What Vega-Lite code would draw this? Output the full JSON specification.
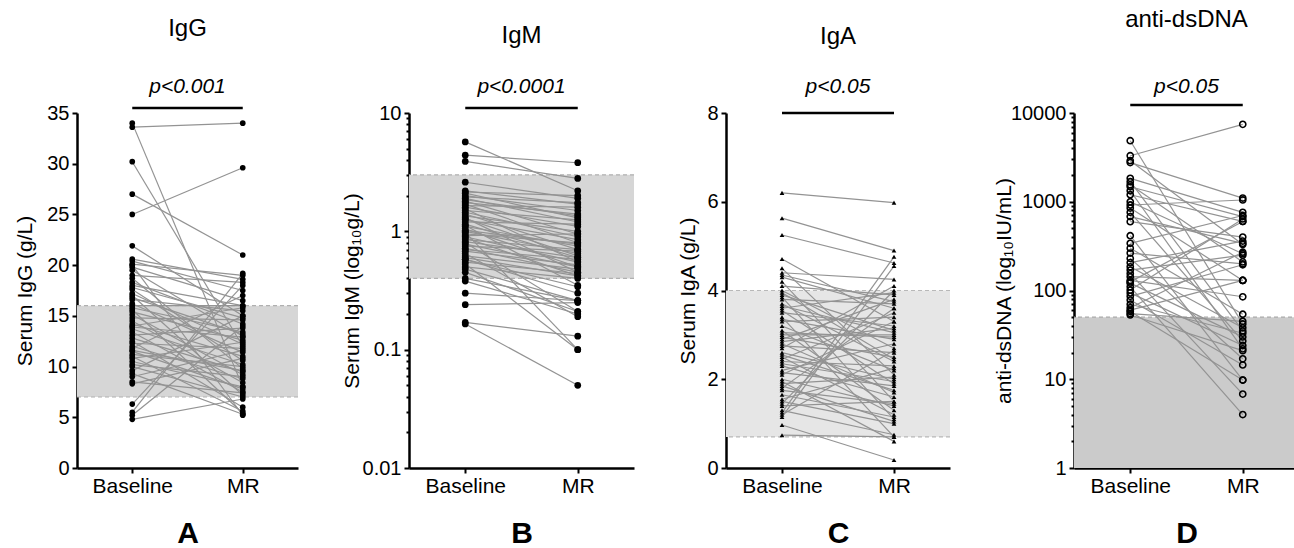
{
  "$schema": "https://vega.github.io/schema/vega-lite/v6.json",
  "padding": {"left": 14, "top": 8, "right": 0, "bottom": 0},
  "background": "white",
  "spacing": 42,
  "config": {
    "view": {"stroke": null},
    "font": "Liberation Sans",
    "axis": {"domainColor": "black", "domainWidth": 2.5, "tickColor": "black", "tickWidth": 2, "labelColor": "black", "titleColor": "black", "labelFont": "Liberation Sans", "titleFont": "Liberation Sans", "grid": false, "labelFontSize": 20, "titleFontSize": 21, "titleFontWeight": "normal", "tickSize": 5, "labelPadding": 3},
    "axisX": {"labelAngle": 0, "labelFontSize": 21, "labelPadding": 2, "titleFontSize": 30, "titleFontWeight": "bold", "titlePadding": 22, "tickSize": 5},
    "title": {"font": "Liberation Sans", "fontSize": 24, "fontWeight": "normal", "color": "black", "subtitleFont": "Liberation Sans", "subtitleFontSize": 21, "subtitleFontStyle": "italic", "subtitleColor": "black", "anchor": "middle", "frame": "group", "offset": 6}
  },
  "datasets": {
    "igg": [
      {"id":1,"Baseline":33.6,"MR":34.0},{"id":2,"Baseline":34.0,"MR":8.0},{"id":3,"Baseline":30.2,"MR":12.0},{"id":4,"Baseline":27.0,"MR":21.0},
      {"id":5,"Baseline":25.0,"MR":29.6},{"id":6,"Baseline":21.9,"MR":15.0},{"id":7,"Baseline":20.6,"MR":18.6},{"id":8,"Baseline":20.4,"MR":17.5},
      {"id":9,"Baseline":20.1,"MR":19.0},{"id":10,"Baseline":19.8,"MR":16.5},{"id":11,"Baseline":19.5,"MR":13.0},{"id":12,"Baseline":19.0,"MR":18.3},
      {"id":13,"Baseline":18.7,"MR":9.8},{"id":14,"Baseline":18.3,"MR":14.2},{"id":15,"Baseline":18.0,"MR":16.0},{"id":16,"Baseline":17.6,"MR":10.6},
      {"id":17,"Baseline":17.2,"MR":12.2},{"id":18,"Baseline":17.0,"MR":7.2},{"id":19,"Baseline":16.6,"MR":15.5},{"id":20,"Baseline":16.2,"MR":11.4},
      {"id":21,"Baseline":16.0,"MR":16.0},{"id":22,"Baseline":15.8,"MR":13.4},{"id":23,"Baseline":15.6,"MR":5.4},{"id":24,"Baseline":15.4,"MR":12.6},
      {"id":25,"Baseline":15.1,"MR":9.2},{"id":26,"Baseline":14.8,"MR":14.6},{"id":27,"Baseline":14.5,"MR":8.4},{"id":28,"Baseline":14.2,"MR":11.0},
      {"id":29,"Baseline":14.0,"MR":15.8},{"id":30,"Baseline":13.7,"MR":10.2},{"id":31,"Baseline":13.4,"MR":7.5},{"id":32,"Baseline":13.1,"MR":13.8},
      {"id":33,"Baseline":12.8,"MR":9.5},{"id":34,"Baseline":12.5,"MR":6.0},{"id":35,"Baseline":12.3,"MR":11.8},{"id":36,"Baseline":12.0,"MR":8.8},
      {"id":37,"Baseline":11.8,"MR":17.0},{"id":38,"Baseline":11.5,"MR":7.8},{"id":39,"Baseline":11.2,"MR":10.0},{"id":40,"Baseline":11.0,"MR":5.6},
      {"id":41,"Baseline":10.8,"MR":12.4},{"id":42,"Baseline":10.5,"MR":8.0},{"id":43,"Baseline":10.2,"MR":9.0},{"id":44,"Baseline":10.0,"MR":7.0},
      {"id":45,"Baseline":9.6,"MR":15.0},{"id":46,"Baseline":9.3,"MR":5.3},{"id":47,"Baseline":9.0,"MR":11.6},{"id":48,"Baseline":8.5,"MR":7.4},
      {"id":49,"Baseline":8.3,"MR":10.8},{"id":50,"Baseline":6.3,"MR":18.0},{"id":51,"Baseline":5.5,"MR":19.2},{"id":52,"Baseline":5.2,"MR":14.0},
      {"id":53,"Baseline":4.8,"MR":6.8},{"id":54,"Baseline":20.0,"MR":5.2},{"id":55,"Baseline":16.8,"MR":13.2},{"id":56,"Baseline":13.9,"MR":12.9},
      {"id":57,"Baseline":11.6,"MR":9.6},{"id":58,"Baseline":17.8,"MR":14.8}
    ],
    "igm": [
      {"id":1,"Baseline":5.7,"MR":2.2},{"id":2,"Baseline":4.4,"MR":3.8},{"id":3,"Baseline":3.9,"MR":2.8},{"id":4,"Baseline":2.6,"MR":1.9},
      {"id":5,"Baseline":2.2,"MR":1.7},{"id":6,"Baseline":2.1,"MR":1.3},{"id":7,"Baseline":2.0,"MR":1.5},{"id":8,"Baseline":1.95,"MR":1.75},
      {"id":9,"Baseline":1.9,"MR":1.2},{"id":10,"Baseline":1.8,"MR":0.95},{"id":11,"Baseline":1.75,"MR":1.4},{"id":12,"Baseline":1.7,"MR":0.8},
      {"id":13,"Baseline":1.6,"MR":1.1},{"id":14,"Baseline":1.55,"MR":0.55},{"id":15,"Baseline":1.5,"MR":1.25},{"id":16,"Baseline":1.45,"MR":0.9},
      {"id":17,"Baseline":1.4,"MR":0.7},{"id":18,"Baseline":1.35,"MR":1.0},{"id":19,"Baseline":1.3,"MR":0.45},{"id":20,"Baseline":1.25,"MR":0.85},
      {"id":21,"Baseline":1.2,"MR":1.15},{"id":22,"Baseline":1.15,"MR":0.6},{"id":23,"Baseline":1.1,"MR":0.75},{"id":24,"Baseline":1.05,"MR":0.5},
      {"id":25,"Baseline":1.0,"MR":0.65},{"id":26,"Baseline":0.98,"MR":0.1},{"id":27,"Baseline":0.95,"MR":0.8},{"id":28,"Baseline":0.9,"MR":0.55},
      {"id":29,"Baseline":0.88,"MR":0.42},{"id":30,"Baseline":0.85,"MR":0.7},{"id":31,"Baseline":0.82,"MR":0.6},{"id":32,"Baseline":0.8,"MR":0.21},
      {"id":33,"Baseline":0.78,"MR":0.5},{"id":34,"Baseline":0.75,"MR":0.68},{"id":35,"Baseline":0.72,"MR":0.45},{"id":36,"Baseline":0.7,"MR":0.58},
      {"id":37,"Baseline":0.68,"MR":0.52},{"id":38,"Baseline":0.65,"MR":0.19},{"id":39,"Baseline":0.62,"MR":0.48},{"id":40,"Baseline":0.6,"MR":0.42},
      {"id":41,"Baseline":0.58,"MR":0.34},{"id":42,"Baseline":0.55,"MR":0.44},{"id":43,"Baseline":0.53,"MR":0.1},{"id":44,"Baseline":0.5,"MR":0.4},
      {"id":45,"Baseline":0.48,"MR":0.26},{"id":46,"Baseline":0.45,"MR":0.21},{"id":47,"Baseline":0.4,"MR":0.26},{"id":48,"Baseline":0.38,"MR":0.2},
      {"id":49,"Baseline":0.3,"MR":0.26},{"id":50,"Baseline":0.24,"MR":0.25},{"id":51,"Baseline":0.17,"MR":0.13},{"id":52,"Baseline":0.165,"MR":0.05},
      {"id":53,"Baseline":1.65,"MR":1.6},{"id":54,"Baseline":1.12,"MR":0.35},{"id":55,"Baseline":2.15,"MR":2.0},{"id":56,"Baseline":0.92,"MR":0.95},
      {"id":57,"Baseline":1.28,"MR":0.62},{"id":58,"Baseline":0.58,"MR":0.3},{"id":59,"Baseline":1.85,"MR":1.35},{"id":60,"Baseline":1.02,"MR":0.78}
    ],
    "iga": [
      {"id":1,"Baseline":6.2,"MR":5.98},{"id":2,"Baseline":5.63,"MR":4.9},{"id":3,"Baseline":5.25,"MR":4.62},{"id":4,"Baseline":4.71,"MR":3.3},
      {"id":5,"Baseline":4.5,"MR":2.1},{"id":6,"Baseline":4.4,"MR":4.25},{"id":7,"Baseline":4.3,"MR":3.6},{"id":8,"Baseline":4.2,"MR":1.5},
      {"id":9,"Baseline":4.1,"MR":3.9},{"id":10,"Baseline":4.0,"MR":2.7},{"id":11,"Baseline":3.9,"MR":3.1},{"id":12,"Baseline":3.85,"MR":1.1},
      {"id":13,"Baseline":3.8,"MR":3.7},{"id":14,"Baseline":3.7,"MR":2.4},{"id":15,"Baseline":3.6,"MR":3.95},{"id":16,"Baseline":3.55,"MR":1.9},
      {"id":17,"Baseline":3.5,"MR":3.2},{"id":18,"Baseline":3.4,"MR":0.7},{"id":19,"Baseline":3.35,"MR":2.9},{"id":20,"Baseline":3.3,"MR":3.4},
      {"id":21,"Baseline":3.2,"MR":2.2},{"id":22,"Baseline":3.1,"MR":1.3},{"id":23,"Baseline":3.0,"MR":3.0},{"id":24,"Baseline":2.95,"MR":2.5},
      {"id":25,"Baseline":2.9,"MR":3.8},{"id":26,"Baseline":2.8,"MR":1.7},{"id":27,"Baseline":2.75,"MR":2.6},{"id":28,"Baseline":2.7,"MR":4.1},
      {"id":29,"Baseline":2.6,"MR":2.0},{"id":30,"Baseline":2.5,"MR":1.2},{"id":31,"Baseline":2.45,"MR":3.5},{"id":32,"Baseline":2.4,"MR":2.3},
      {"id":33,"Baseline":2.3,"MR":1.6},{"id":34,"Baseline":2.2,"MR":2.8},{"id":35,"Baseline":2.15,"MR":1.85},{"id":36,"Baseline":2.1,"MR":3.3},
      {"id":37,"Baseline":2.0,"MR":1.4},{"id":38,"Baseline":1.95,"MR":0.6},{"id":39,"Baseline":1.9,"MR":2.05},{"id":40,"Baseline":1.85,"MR":1.05},
      {"id":41,"Baseline":1.8,"MR":3.6},{"id":42,"Baseline":1.75,"MR":1.45},{"id":43,"Baseline":1.55,"MR":2.25},{"id":44,"Baseline":1.5,"MR":1.0},
      {"id":45,"Baseline":1.45,"MR":4.0},{"id":46,"Baseline":1.4,"MR":1.5},{"id":47,"Baseline":1.3,"MR":0.75},{"id":48,"Baseline":1.25,"MR":4.76},
      {"id":49,"Baseline":1.2,"MR":2.65},{"id":50,"Baseline":1.15,"MR":4.55},{"id":51,"Baseline":0.97,"MR":0.18},{"id":52,"Baseline":0.74,"MR":0.7},
      {"id":53,"Baseline":3.65,"MR":3.05},{"id":54,"Baseline":2.55,"MR":1.75},{"id":55,"Baseline":3.05,"MR":2.95},{"id":56,"Baseline":2.35,"MR":1.95},
      {"id":57,"Baseline":4.35,"MR":3.75},{"id":58,"Baseline":1.65,"MR":1.15},{"id":59,"Baseline":2.85,"MR":3.15},{"id":60,"Baseline":3.95,"MR":2.45}
    ],
    "dsdna": [
      {"id":1,"Baseline":4870,"MR":42},{"id":2,"Baseline":3300,"MR":7450},{"id":3,"Baseline":2760,"MR":1100},{"id":4,"Baseline":1837,"MR":760},
      {"id":5,"Baseline":1683,"MR":35},{"id":6,"Baseline":1475,"MR":680},{"id":7,"Baseline":1330,"MR":22},{"id":8,"Baseline":1200,"MR":600},
      {"id":9,"Baseline":919,"MR":1047},{"id":10,"Baseline":850,"MR":130},{"id":11,"Baseline":760,"MR":27},{"id":12,"Baseline":680,"MR":340},
      {"id":13,"Baseline":596,"MR":400},{"id":14,"Baseline":414,"MR":9.8},{"id":15,"Baseline":340,"MR":700},{"id":16,"Baseline":300,"MR":54},
      {"id":17,"Baseline":264,"MR":200},{"id":18,"Baseline":230,"MR":17},{"id":19,"Baseline":206,"MR":360},{"id":20,"Baseline":185,"MR":38},
      {"id":21,"Baseline":170,"MR":250},{"id":22,"Baseline":155,"MR":6.8},{"id":23,"Baseline":143,"MR":130},{"id":24,"Baseline":130,"MR":85},
      {"id":25,"Baseline":121,"MR":30},{"id":26,"Baseline":110,"MR":4.0},{"id":27,"Baseline":101,"MR":640},{"id":28,"Baseline":94,"MR":24},
      {"id":29,"Baseline":86,"MR":195},{"id":30,"Baseline":78,"MR":14.5},{"id":31,"Baseline":70,"MR":33},{"id":32,"Baseline":64,"MR":270},
      {"id":33,"Baseline":58,"MR":9.8},{"id":34,"Baseline":55,"MR":45},{"id":35,"Baseline":53,"MR":21},{"id":36,"Baseline":60,"MR":130},
      {"id":37,"Baseline":2900,"MR":330},{"id":38,"Baseline":1550,"MR":210},{"id":39,"Baseline":1000,"MR":260},{"id":40,"Baseline":125,"MR":600}
    ]
  },
  "hconcat": [
    {
      "width": 221, "height": 355,
      "title": {"text": "IgG", "subtitle": "p<0.001", "subtitlePadding": 35},
      "layer": [
        {"data": {"values": [{"v": 7, "v2": 16}]}, "mark": {"type": "rect", "color": "#d6d6d6"},
         "encoding": {"y": {"field": "v", "type": "quantitative", "scale": {"domain": [0, 35], "nice": false, "zero": false}, "title": "Serum IgG (g/L)", "axis": {"values": [0, 5, 10, 15, 20, 25, 30, 35], "titlePadding": 11}}, "y2": {"field": "v2"}}},
        {"data": {"values": [{"v": 7}, {"v": 16}]}, "mark": {"type": "rule", "color": "#b0b0b0", "strokeDash": [4, 3], "strokeWidth": 1.2},
         "encoding": {"y": {"field": "v", "type": "quantitative", "title": "Serum IgG (g/L)"}}},
        {"data": {"name": "igg"}, "transform": [{"fold": ["Baseline", "MR"], "as": ["t", "v"]}], "mark": {"type": "line", "color": "#939393", "strokeWidth": 1.2},
         "encoding": {"x": {"field": "t", "type": "nominal", "scale": {"type": "point", "padding": 0.5, "domain": ["Baseline", "MR"]}, "title": "A"}, "y": {"field": "v", "type": "quantitative", "title": "Serum IgG (g/L)"}, "detail": {"field": "id", "type": "nominal"}}},
        {"data": {"name": "igg"}, "transform": [{"fold": ["Baseline", "MR"], "as": ["t", "v"]}], "mark": {"type": "point", "shape": "circle", "filled": true, "color": "black", "size": 32, "opacity": 1},
         "encoding": {"x": {"field": "t", "type": "nominal", "title": "A"}, "y": {"field": "v", "type": "quantitative", "title": "Serum IgG (g/L)"}}},
        {"data": {"values": [{"t": "Baseline", "t2": "MR", "v": 35.5}]}, "mark": {"type": "rule", "color": "black", "strokeWidth": 2.5},
         "encoding": {"x": {"field": "t", "type": "nominal", "title": "A"}, "x2": {"field": "t2"}, "y": {"field": "v", "type": "quantitative", "title": "Serum IgG (g/L)"}}}
      ]
    },
    {
      "width": 225, "height": 355,
      "title": {"text": "IgM", "subtitle": "p<0.0001", "subtitlePadding": 28},
      "layer": [
        {"data": {"values": [{"v": 0.4, "v2": 3.0}]}, "mark": {"type": "rect", "color": "#d6d6d6"},
         "encoding": {"y": {"field": "v", "type": "quantitative", "scale": {"type": "log", "domain": [0.01, 10], "nice": false}, "title": "Serum IgM (log₁₀g/L)",
           "axis": {"values": [0.01,0.02,0.03,0.04,0.05,0.06,0.07,0.08,0.09,0.1,0.2,0.3,0.4,0.5,0.6,0.7,0.8,0.9,1,2,3,4,5,6,7,8,9,10],
                    "labelExpr": "datum.value == 0.01 ? '0.01' : datum.value == 0.1 ? '0.1' : datum.value == 1 ? '1' : datum.value == 10 ? '10' : ''",
                    "tickSize": {"condition": {"test": "datum.value == 0.01 || datum.value == 0.1 || datum.value == 1 || datum.value == 10", "value": 5}, "value": 3},
                    "titlePadding": 0}}, "y2": {"field": "v2"}}},
        {"data": {"values": [{"v": 0.4}, {"v": 3.0}]}, "mark": {"type": "rule", "color": "#b0b0b0", "strokeDash": [4, 3], "strokeWidth": 1.2},
         "encoding": {"y": {"field": "v", "type": "quantitative", "title": "Serum IgM (log₁₀g/L)"}}},
        {"data": {"name": "igm"}, "transform": [{"fold": ["Baseline", "MR"], "as": ["t", "v"]}], "mark": {"type": "line", "color": "#939393", "strokeWidth": 1.2},
         "encoding": {"x": {"field": "t", "type": "nominal", "scale": {"type": "point", "padding": 0.5, "domain": ["Baseline", "MR"]}, "title": "B"}, "y": {"field": "v", "type": "quantitative", "title": "Serum IgM (log₁₀g/L)"}, "detail": {"field": "id", "type": "nominal"}}},
        {"data": {"name": "igm"}, "transform": [{"fold": ["Baseline", "MR"], "as": ["t", "v"]}], "mark": {"type": "point", "shape": "circle", "filled": true, "color": "black", "size": 45, "opacity": 1},
         "encoding": {"x": {"field": "t", "type": "nominal", "title": "B"}, "y": {"field": "v", "type": "quantitative", "title": "Serum IgM (log₁₀g/L)"}}},
        {"data": {"values": [{"t": "Baseline", "t2": "MR", "v": 11.0}]}, "mark": {"type": "rule", "color": "black", "strokeWidth": 2.5},
         "encoding": {"x": {"field": "t", "type": "nominal", "title": "B"}, "x2": {"field": "t2"}, "y": {"field": "v", "type": "quantitative", "title": "Serum IgM (log₁₀g/L)"}}}
      ]
    },
    {
      "width": 224, "height": 355,
      "title": {"text": "IgA", "subtitle": "p<0.05", "subtitlePadding": 27},
      "layer": [
        {"data": {"values": [{"v": 0.7, "v2": 4.0}]}, "mark": {"type": "rect", "color": "#e6e6e6"},
         "encoding": {"y": {"field": "v", "type": "quantitative", "scale": {"domain": [0, 8], "nice": false, "zero": false}, "title": "Serum IgA (g/L)", "axis": {"values": [0, 2, 4, 6, 8], "titlePadding": 8}}, "y2": {"field": "v2"}}},
        {"data": {"values": [{"v": 0.7}, {"v": 4.0}]}, "mark": {"type": "rule", "color": "#b8b8b8", "strokeDash": [4, 3], "strokeWidth": 1.2},
         "encoding": {"y": {"field": "v", "type": "quantitative", "title": "Serum IgA (g/L)"}}},
        {"data": {"name": "iga"}, "transform": [{"fold": ["Baseline", "MR"], "as": ["t", "v"]}], "mark": {"type": "line", "color": "#939393", "strokeWidth": 1.2},
         "encoding": {"x": {"field": "t", "type": "nominal", "scale": {"type": "point", "padding": 0.5, "domain": ["Baseline", "MR"]}, "title": "C"}, "y": {"field": "v", "type": "quantitative", "title": "Serum IgA (g/L)"}, "detail": {"field": "id", "type": "nominal"}}},
        {"data": {"name": "iga"}, "transform": [{"fold": ["Baseline", "MR"], "as": ["t", "v"]}], "mark": {"type": "point", "shape": "triangle-up", "filled": true, "color": "black", "size": 22, "opacity": 1},
         "encoding": {"x": {"field": "t", "type": "nominal", "title": "C"}, "y": {"field": "v", "type": "quantitative", "title": "Serum IgA (g/L)"}}},
        {"data": {"values": [{"t": "Baseline", "t2": "MR", "v": 8.0}]}, "mark": {"type": "rule", "color": "black", "strokeWidth": 2.5},
         "encoding": {"x": {"field": "t", "type": "nominal", "title": "C"}, "x2": {"field": "t2"}, "y": {"field": "v", "type": "quantitative", "title": "Serum IgA (g/L)"}}}
      ]
    },
    {
      "width": 225, "height": 355,
      "title": {"text": "anti-dsDNA", "subtitle": "p<0.05", "subtitlePadding": 44},
      "layer": [
        {"data": {"values": [{"v": 1, "v2": 50}]}, "mark": {"type": "rect", "color": "#cbcbcb"},
         "encoding": {"y": {"field": "v", "type": "quantitative", "scale": {"type": "log", "domain": [1, 10000], "nice": false}, "title": "anti-dsDNA (log₁₀IU/mL)",
           "axis": {"values": [1,2,3,4,5,6,7,8,9,10,20,30,40,50,60,70,80,90,100,200,300,400,500,600,700,800,900,1000,2000,3000,4000,5000,6000,7000,8000,9000,10000],
                    "labelExpr": "datum.value == 1 ? '1' : datum.value == 10 ? '10' : datum.value == 100 ? '100' : datum.value == 1000 ? '1000' : datum.value == 10000 ? '10000' : ''",
                    "tickSize": {"condition": {"test": "datum.value == 1 || datum.value == 10 || datum.value == 100 || datum.value == 1000 || datum.value == 10000", "value": 5}, "value": 3},
                    "titlePadding": -4}}, "y2": {"field": "v2"}}},
        {"data": {"values": [{"v": 50}]}, "mark": {"type": "rule", "color": "#a8a8a8", "strokeDash": [4, 3], "strokeWidth": 1.2},
         "encoding": {"y": {"field": "v", "type": "quantitative", "title": "anti-dsDNA (log₁₀IU/mL)"}}},
        {"data": {"name": "dsdna"}, "transform": [{"fold": ["Baseline", "MR"], "as": ["t", "v"]}], "mark": {"type": "line", "color": "#939393", "strokeWidth": 1.2},
         "encoding": {"x": {"field": "t", "type": "nominal", "scale": {"type": "point", "padding": 0.5, "domain": ["Baseline", "MR"]}, "title": "D"}, "y": {"field": "v", "type": "quantitative", "title": "anti-dsDNA (log₁₀IU/mL)"}, "detail": {"field": "id", "type": "nominal"}}},
        {"data": {"name": "dsdna"}, "transform": [{"fold": ["Baseline", "MR"], "as": ["t", "v"]}], "mark": {"type": "point", "shape": "circle", "filled": false, "color": "black", "strokeWidth": 1.6, "size": 38, "opacity": 1},
         "encoding": {"x": {"field": "t", "type": "nominal", "title": "D"}, "y": {"field": "v", "type": "quantitative", "title": "anti-dsDNA (log₁₀IU/mL)"}}},
        {"data": {"values": [{"t": "Baseline", "t2": "MR", "v": 12300}]}, "mark": {"type": "rule", "color": "black", "strokeWidth": 2.5},
         "encoding": {"x": {"field": "t", "type": "nominal", "title": "D"}, "x2": {"field": "t2"}, "y": {"field": "v", "type": "quantitative", "title": "anti-dsDNA (log₁₀IU/mL)"}}}
      ]
    }
  ]
}
